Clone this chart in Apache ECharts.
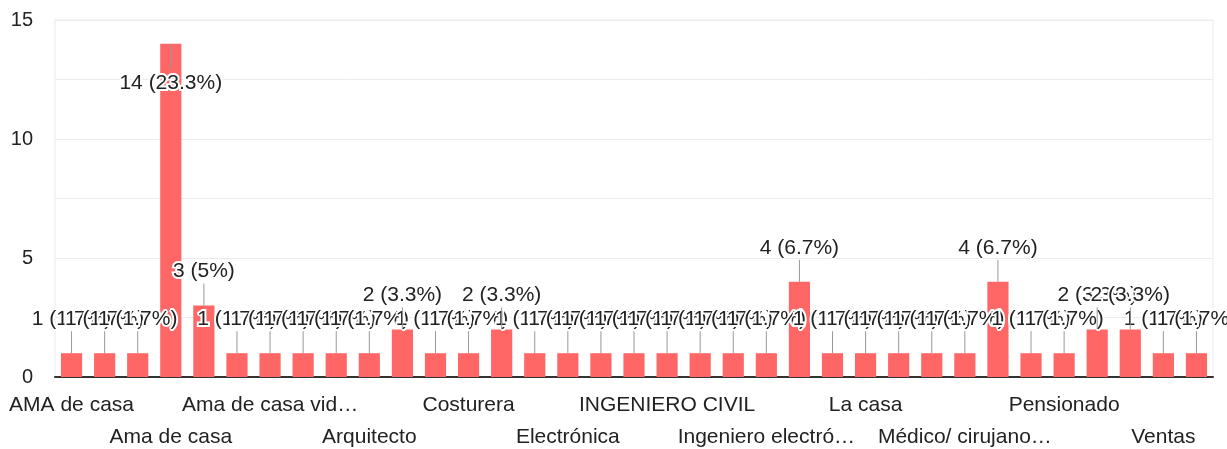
<!DOCTYPE html>
<html>
<head>
<meta charset="utf-8">
<script src="https://cdn.jsdelivr.net/npm/echarts@6/dist/echarts.min.js"></script>
<style>
  html, body { margin: 0; padding: 0; background: #fff; }
  #chart { width: 1227px; height: 449px; }
</style>
</head>
<body>
<div id="chart"></div>
<script>
// answers (occupations), in the order the form lists them
var occupations = [
    'AMA de casa', 'Abogado', 'Administrador', 'Ama de casa', 'Ama de Casa',
    'Ama de casa jubilada', 'Ama de casa vidriera', 'Arquitecta', 'Arquitecta civil', 'Arquitecto',
    'Campesino', 'Comerciante', 'Costurera', 'Docente', 'Economista',
    'Electrónica', 'Empleado', 'Enfermera', 'INGENIERO CIVIL', 'Ingeniera',
    'Ingeniero', 'Ingeniero electrónico', 'Jubilado', 'Jubilado IMSS', 'La casa',
    'Licenciada', 'Maestra', 'Médico/ cirujano dentista', 'Negocio propio', 'Obrero',
    'Pensionado', 'Profesor', 'Técnico', 'Ventas', 'Zapatero'
];
var counts = [
    1, 1, 1, 14, 3,
    1, 1, 1, 1, 1,
    2, 1, 1, 2, 1,
    1, 1, 1, 1, 1,
    1, 1, 4, 1, 1,
    1, 1, 1, 4, 1,
    1, 2, 2, 1, 1
];
var yTicks = [0, 5, 10, 15];

var total = counts.reduce(function (a, b) { return a + b; }, 0);
var maxCount = Math.max.apply(null, counts);

var chartDom = document.getElementById('chart');
var myChart = echarts.init(chartDom);

var font = "'Liberation Sans', Arial, sans-serif";
var labelFont = '21px "Liberation Sans", Arial, sans-serif';

function shortName(name) {
    var t = echarts.format.truncateText(name, 181, labelFont, '…');
    return t.replace(/\s+…$/, '…');
}

var option = {
    backgroundColor: '#fff',
    animation: false,
    grid: {
        left: 55,
        right: 14,
        top: 20,
        bottom: 72,
        outerBoundsMode: 'none',
        show: true,
        borderColor: '#ebebeb',
        borderWidth: 1
    },
    xAxis: {
        type: 'category',
        data: occupations,
        axisTick: { show: false },
        axisLine: { lineStyle: { color: '#333', width: 2 } },
        axisLabel: {
            // every third name is shown, alternating between two rows
            interval: 0,
            margin: 12,
            color: '#222',
            fontFamily: font,
            fontSize: 21,
            lineHeight: 32,
            formatter: function (value, index) {
                if (index % 3 !== 0) return '';
                var s = shortName(value);
                return (index / 3) % 2 === 1 ? '\n' + s : s;
            }
        }
    },
    yAxis: {
        type: 'value',
        min: 0,
        max: 15,
        interval: 2.5,
        axisLine: { show: false },
        axisTick: { show: false },
        splitLine: { lineStyle: { color: '#ebebeb', width: 1 } },
        axisLabel: {
            margin: 22,
            color: '#222',
            fontFamily: font,
            fontSize: 20,
            formatter: function (v) {
                return yTicks.indexOf(v) >= 0 ? String(v) : '';
            }
        }
    },
    series: [
        {
            type: 'bar',
            data: counts,
            barCategoryGap: '36%',
            itemStyle: { color: '#ff6666' },
            z: 2,
            label: {
                show: true,
                position: 'top',
                color: '#222',
                fontFamily: font,
                fontSize: 21,
                textBorderColor: '#fff',
                textBorderWidth: 4,
                formatter: function (p) {
                    var pct = Math.round(p.value / total * 1000) / 10;
                    return p.value + ' (' + pct + '%)';
                }
            },
            labelLayout: function (params) {
                var r = params.rect;
                var inside = counts[params.dataIndex] === maxCount;
                return {
                    x: r.x + r.width / 2,
                    y: inside ? r.y + 39 : r.y - 34,
                    align: 'center',
                    verticalAlign: 'middle'
                };
            }
        },
        {
            // leader lines between bar tops and their labels
            type: 'custom',
            z: 3,
            silent: true,
            data: counts.map(function (v, i) { return [i, v]; }),
            renderItem: function (params, api) {
                var v = api.value(1);
                var p = api.coord([api.value(0), v]);
                var y2 = v === maxCount ? p[1] + 25 : p[1] - 22;
                return {
                    type: 'line',
                    shape: { x1: p[0], y1: p[1], x2: p[0], y2: y2 },
                    style: { stroke: '#999', lineWidth: 1 }
                };
            }
        }
    ]
};
myChart.setOption(option);
</script>
</body>
</html>
